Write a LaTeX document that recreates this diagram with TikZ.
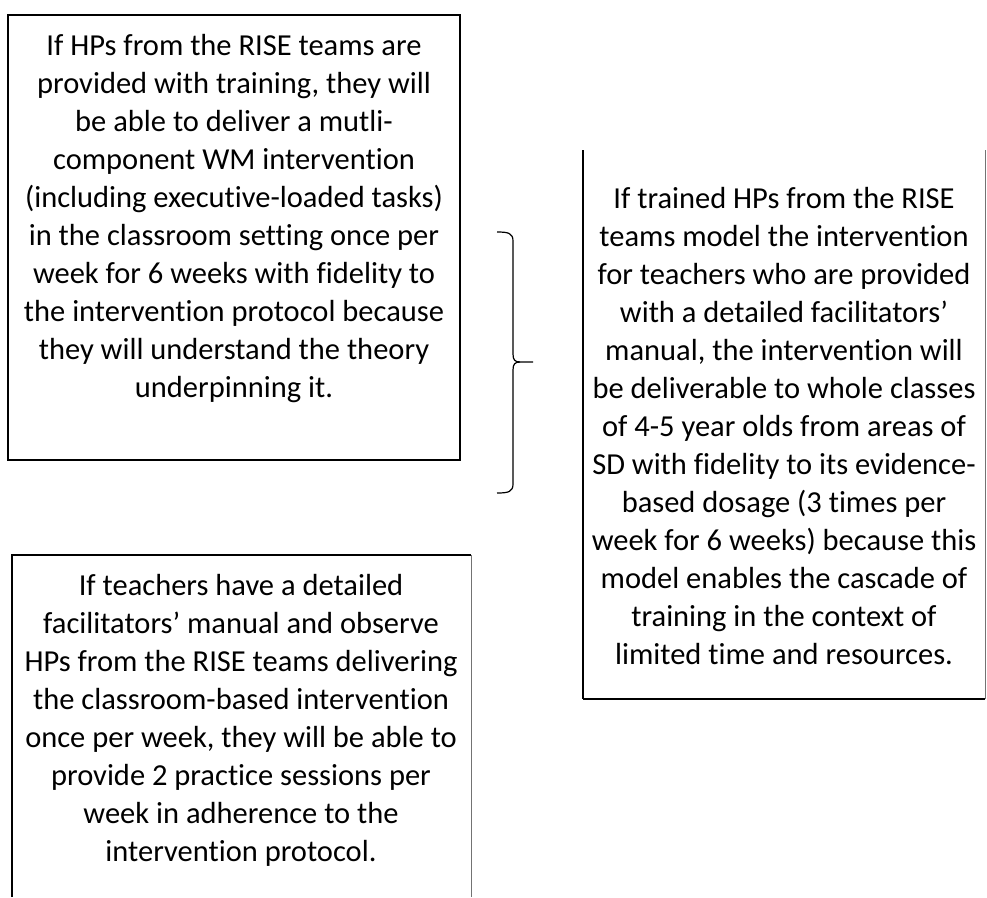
\documentclass[tikz,border=0pt]{standalone}
\usepackage{fontspec}
\setmainfont{Carlito}[Ligatures=NoCommon]
\begin{document}
\begin{tikzpicture}[x=1pt,y=-1pt,
  % base anchor of a multi-line node is the baseline of its last line
  txt/.style={align=center, font=\fontsize{30.5}{38}\selectfont, inner sep=0pt, anchor=base},
  frame/.style={line width=1.6pt, black},
  thinframe/.style={line width=1pt, black!55},
  bracestroke/.style={line width=1.2pt, black, line join=round}]
  \useasboundingbox[fill=white] (0,0) rectangle (987,897);

  % corners of the three boxes
  \coordinate (aNW) at (8,15);   \coordinate (aSE) at (460,460);
  \coordinate (bNW) at (12,555); \coordinate (bNE) at (471,555);
  \coordinate (bSW) at (12,897); \coordinate (bSE) at (471,897);
  \coordinate (cNW) at (583,150); \coordinate (cSW) at (583,699);
  \coordinate (cSE) at (985,699); \coordinate (cNE) at (985,150);

  % box A: closed frame, heavier on the left and bottom
  \draw[frame] (aNW) rectangle (aSE);
  \draw[line width=2.4pt] (aNW |- aSE) -- (aSE);
  \draw[line width=2.4pt] (aNW) -- (aNW |- aSE);

  % box B: open at the foot
  \draw[frame] (bSW) -- (bNW) -- (bNE);
  \draw[thinframe] (bNE) -- (bSE);

  % box C: open at the head
  \draw[line width=2.4pt] (cNW) -- (cSW);
  \draw[frame] (cSW) -- (cSE);
  \draw[thinframe] (cSE) -- (cNE);

  \node[txt] (hpTraining) at (234,397) {If HPs from the RISE teams are\\
    provided with training, they will\\
    be able to deliver a mutli-\\
    component WM intervention\\
    (including executive-loaded tasks)\\
    in the classroom setting once per\\
    week for 6 weeks with fidelity to\\
    the intervention protocol because\\
    they will understand the theory\\
    underpinning it.};

  \node[txt] (teacherPractice) at (241,861) {If teachers have a detailed\\
    facilitators’ manual and observe\\
    HPs from the RISE teams delivering\\
    the classroom-based intervention\\
    once per week, they will be able to\\
    provide 2 practice sessions per\\
    week in adherence to the\\
    intervention protocol.};

  \node[txt] (cascade) at (784,664) {If trained HPs from the RISE\\
    teams model the intervention\\
    for teachers who are provided\\
    with a detailed facilitators’\\
    manual, the intervention will\\
    be deliverable to whole classes\\
    of 4-5 year olds from areas of\\
    SD with fidelity to its evidence-\\
    based dosage (3 times per\\
    week for 6 weeks) because this\\
    model enables the cascade of\\
    training in the context of\\
    limited time and resources.};

  % right-facing brace joining the two left boxes
  \coordinate (brTop) at (497,232);
  \coordinate (brBot) at (497,493);
  \coordinate (brTip) at (533,362);
  \draw[bracestroke] (brTop) .. controls (508,232) and (513,233) .. (513,241)
    -- (513,354) .. controls (513,360) and (515,362) .. (520,362) -- (brTip);
  \draw[bracestroke] (brBot) .. controls (508,493) and (513,492) .. (513,484)
    -- (513,370) .. controls (513,364) and (515,362) .. (520,362);
\end{tikzpicture}
\end{document}
